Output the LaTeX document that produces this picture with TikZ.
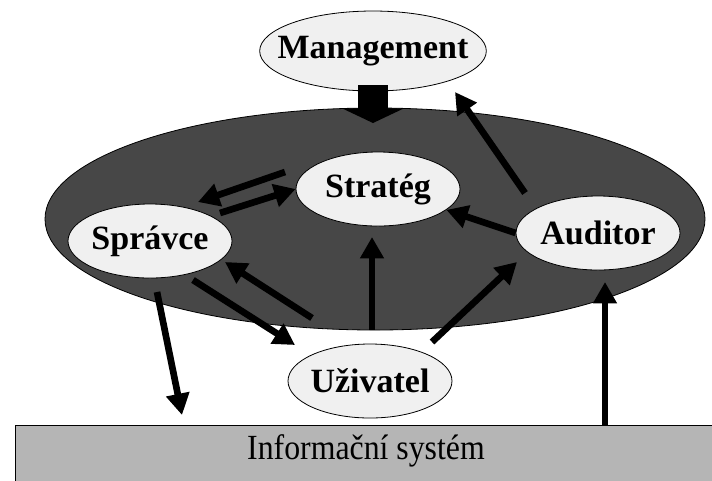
\documentclass[tikz,border=0pt]{standalone}
\usepackage{fontspec}
\setmainfont{Liberation Serif}
\newfontfamily\condserif[FakeStretch=0.9]{Liberation Serif}
\usetikzlibrary{shapes.geometric,arrows.meta}
\definecolor{darkfill}{HTML}{474747}
\definecolor{lightfill}{HTML}{F0F0F0}
\definecolor{isfill}{HTML}{B5B5B5}
\begin{document}
\begin{tikzpicture}[x=0.75pt,y=-0.75pt,
  role/.style={ellipse, draw=black, line width=0.6pt, fill=lightfill,
    minimum width=123pt, minimum height=55.5pt, inner ysep=0pt, inner xsep=-30pt,
    font=\bfseries\fontsize{25.5}{30}\selectfont},
  flow/.style={line width=5pt, -{Triangle[length=16pt,width=17pt]}},
  blockarrow/.style={line width=22.5pt, -{Triangle[length=11pt,width=46pt]}},
]
\clip (0,0) rectangle (712,480);
% organisation
\node[ellipse, draw=black, line width=0.6pt, fill=darkfill, minimum width=495pt,
  minimum height=166.5pt, inner sep=0pt] (org) at (375,219) {};
% information system
\node[rectangle, draw=black, line width=0.8pt, fill=isfill, anchor=north west,
  minimum width=540pt, minimum height=60pt, inner sep=0pt] (is) at (15,425) {};
\node[font=\condserif\fontsize{26.5}{30}\selectfont] (istext) at (366,451) {Informační systém};
% management
\node[role, minimum width=170pt, minimum height=60pt] (mg) at (373,51) {Management};
\coordinate (mgtip) at (373,123);
\draw[blockarrow] ([yshift=4.5pt]mg.south) -- (mgtip);
% roles
\node[role] (str) at (378,189) {Stratég};
\node[role] (spr) at (150,241) {Správce};
\node[role] (aud) at (598,233) {Auditor};
\node[role] (uzi) at (370,381) {Uživatel};
% arrow end points
\coordinate (a1s) at (285,172); \coordinate (a1e) at (198,202);
\coordinate (a2s) at (220,213);
\coordinate (a4s) at (525,193); \coordinate (a4e) at (455,92);
\coordinate (a5s) at (432,342); \coordinate (a5e) at (517,262);
\coordinate (a6s) at (372,330); \coordinate (a6e) at (372,237);
\coordinate (a7s) at (312,318); \coordinate (a7e) at (225,262);
\coordinate (a8s) at (193,280); \coordinate (a8e) at (295,345);
\coordinate (a9s) at (157,292); \coordinate (a9e) at (182,415);
\coordinate (a10s) at (605,425); \coordinate (a10e) at (605,282);
% arrows
\draw[flow] (a1s) -- (a1e);
\draw[flow] (a2s) -- (str.west);
\draw[flow] (aud.west) -- (str.-17);
\draw[flow] (a4s) -- (a4e);
\draw[flow] (a5s) -- (a5e);
\draw[flow] (a6s) -- (a6e);
\draw[flow] (a7s) -- (a7e);
\draw[flow] (a8s) -- (a8e);
\draw[flow] (a9s) -- (a9e);
\draw[flow] (a10s) -- (a10e);
\end{tikzpicture}
\end{document}
